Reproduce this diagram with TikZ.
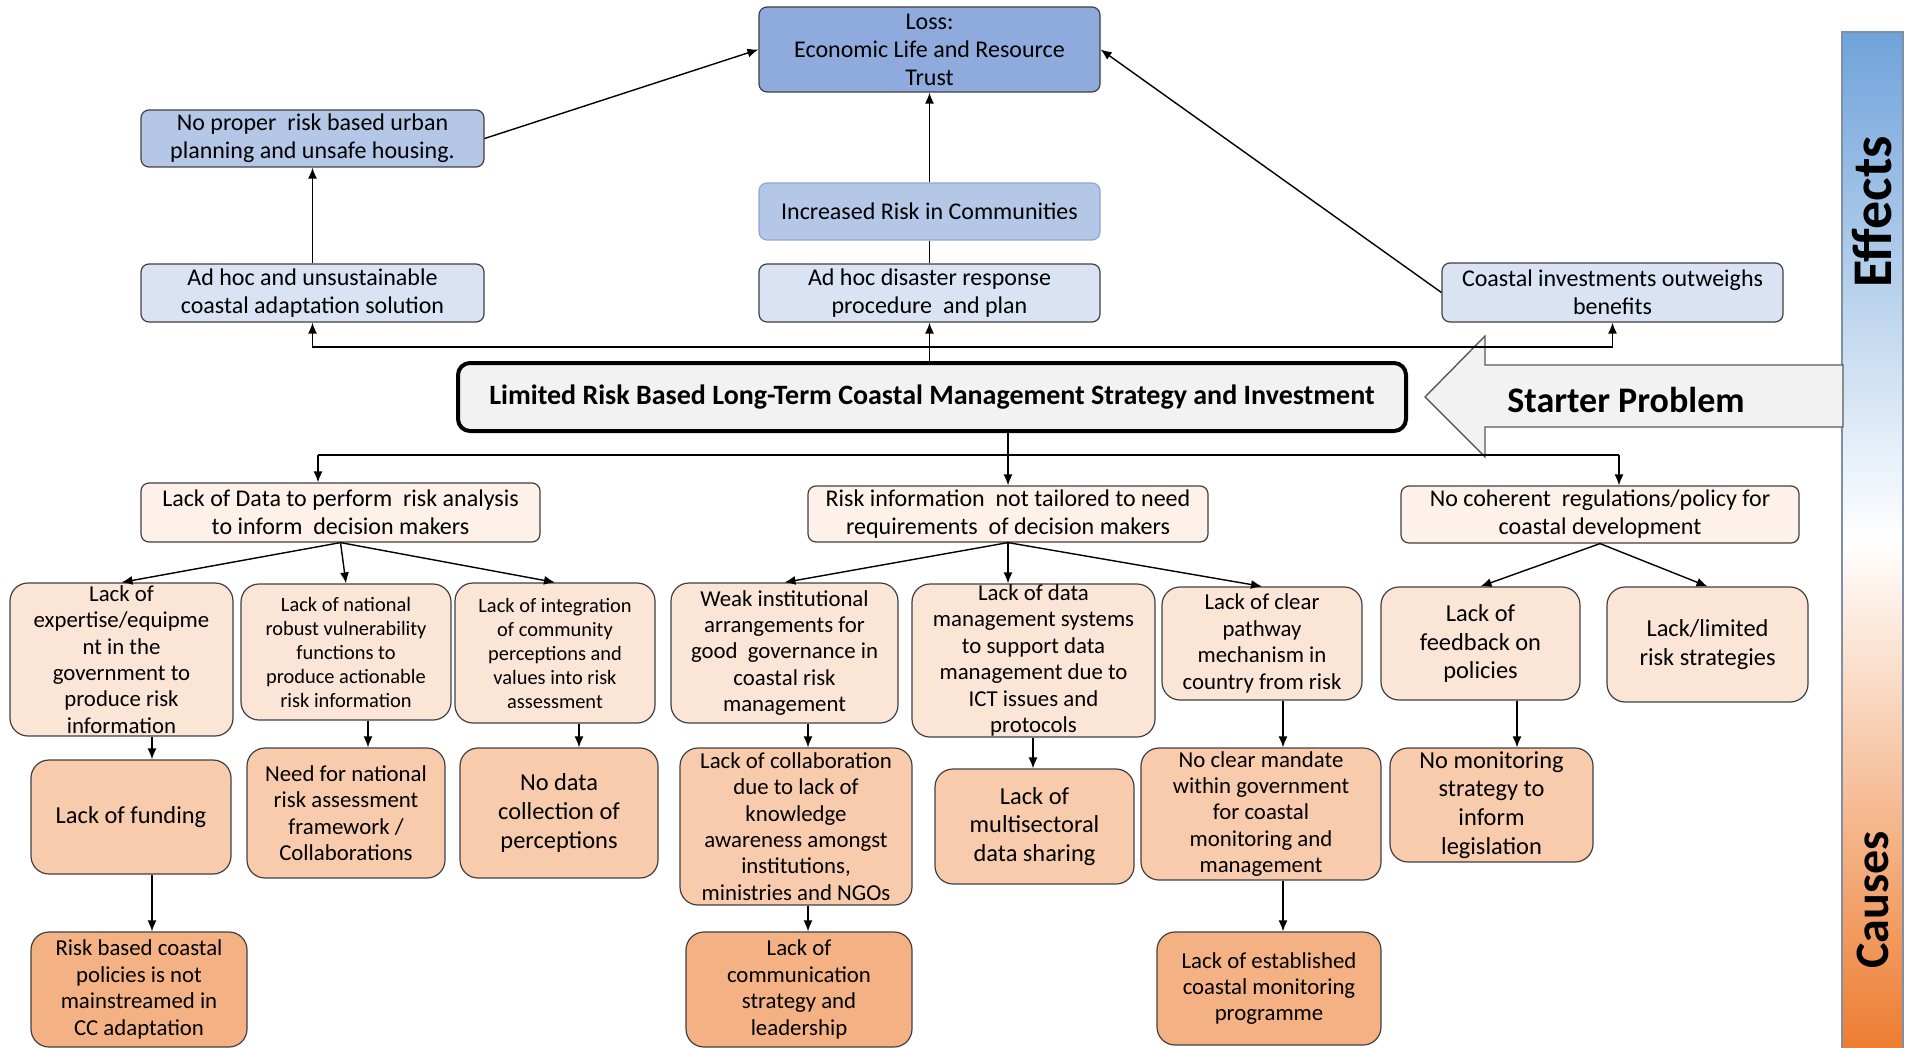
\documentclass[tikz,border=0pt]{standalone}
\usepackage{fontspec}
\setmainfont{Carlito}
\usepackage{tikz}
\usetikzlibrary{arrows.meta}

\definecolor{boxline}{HTML}{404040}
\definecolor{lossblue}{HTML}{8FAADC}
\definecolor{urbanblue}{HTML}{B4C7E7}
\definecolor{riskline}{HTML}{8EA6D2}
\definecolor{adhocblue}{HTML}{DAE3F3}
\definecolor{startgray}{HTML}{F2F2F2}
\definecolor{arrowline}{HTML}{595959}
\definecolor{peachA}{HTML}{FDF1E9}
\definecolor{peachB}{HTML}{FBE5D6}
\definecolor{peachC}{HTML}{F8CBAD}
\definecolor{peachD}{HTML}{F4B183}
\definecolor{barblue}{HTML}{6FA3DA}
\definecolor{barorange}{HTML}{ED7D31}
\definecolor{bargray}{HTML}{7F8FA6}

\begin{document}
\begin{tikzpicture}[x=0.5pt, y=-0.5pt, >={Latex[length=5.5pt,width=4.5pt]},
    box/.style={draw=boxline, line width=0.6pt, rounded corners=4pt, align=center, inner sep=0pt},
    effect/.style={box, font=\fontsize{12}{14}\selectfont},
    cause/.style={box, rounded corners=9pt, font=\fontsize{11.4}{13.2}\selectfont},
    small/.style={font=\fontsize{10.2}{12}\selectfont},
    big/.style={font=\fontsize{12.2}{14.4}\selectfont},
    link/.style={line width=0.7pt}]
    \useasboundingbox (0,0) rectangle (1916,1048);
    % side bar
    \shade [top color=barblue, bottom color=barorange, middle color=white] (1842,32) rectangle (1903,1048);
    \draw [draw=bargray, line width=0.6pt] (1842,1048) -- (1842,32) -- (1903,32) -- (1903,1048);
    \node [rotate=90, font=\bfseries\fontsize{28}{32}\selectfont] (effects) at (1872,212) {Effects};
    \node [rotate=90, font=\bfseries\fontsize{24}{28}\selectfont] (causes) at (1873,900) {Causes};
    % effects
    \node [effect, fill=lossblue, minimum width=170.5pt, minimum height=42.5pt] (loss) at (929.5,49.5) {Loss:\\Economic Life and Resource\\Trust};
    \node [effect, fill=urbanblue, minimum width=171.5pt, minimum height=28.5pt] (urban) at (312.5,138.5) {No proper\ \ risk based urban\\planning and unsafe housing.};
    \node [effect, fill=urbanblue, draw=riskline, minimum width=170.5pt, minimum height=28.5pt] (risk) at (929.5,211.5) {Increased Risk in Communities};
    \node [effect, fill=adhocblue, minimum width=171.5pt, minimum height=29pt] (adhoc) at (312.5,293) {Ad hoc and unsustainable\\coastal adaptation solution};
    \node [effect, fill=adhocblue, minimum width=170.5pt, minimum height=29pt] (disaster) at (929.5,293) {Ad hoc disaster response\\procedure\ \ and plan};
    \node [effect, fill=adhocblue, minimum width=170.5pt, minimum height=29.5pt] (invest) at (1612.5,292.5) {Coastal investments outweighs\\benefits};
    \draw [->, link] (adhoc.north) -- (urban.south);
    \draw [->, link] (urban.east) -- (loss.west);
    \draw [link] (disaster.north) -- (risk.south);
    \draw [->, link] (risk.north) -- (loss.south);
    \draw [->, link] (invest.west) -- (loss.east);
    % starter problem
    \draw [draw=arrowline, fill=startgray, line width=0.7pt] (1843,365) -- (1485,365) -- (1485,336) -- (1425,397) -- (1485,457) -- (1485,427) -- (1843,427) -- cycle;
    \node [font=\bfseries\fontsize{18}{22}\selectfont] (starter) at (1626,400) {Starter Problem};
    \node [box, line width=2pt, draw=black, rounded corners=6pt, fill=startgray, minimum width=474pt, minimum height=34pt, font=\bfseries\fontsize{14}{17}\selectfont] (start) at (932,397) {Limited Risk Based Long-Term Coastal Management Strategy and Investment};
    \coordinate (up) at (929.5,347);
    \draw [->, link] (start.north -| disaster) -- (disaster.south);
    \draw [->, link] (up) -| (adhoc.south);
    \draw [->, link] (up) -| (invest.south);
    % causes, first row
    \node [box, fill=peachA, font=\fontsize{12}{14}\selectfont, minimum width=199.5pt, minimum height=29.5pt] (lackdata) at (340.5,512.5) {Lack of Data to perform\ \ risk analysis\\to inform\ \ decision makers};
    \node [box, fill=peachA, font=\fontsize{12}{14}\selectfont, minimum width=200pt, minimum height=28pt] (riskinfo) at (1008,514) {Risk information\ \ not tailored to need\\requirements\ \ of decision makers};
    \node [box, fill=peachA, font=\fontsize{12}{14}\selectfont, minimum width=199pt, minimum height=28.5pt] (coherent) at (1600,514.5) {No coherent\ \ regulations/policy for\\coastal development};
    \coordinate (dl) at (318,455);
    \coordinate (dr) at (1619,455);
    \draw [->, link] (start.south -| riskinfo) -- (riskinfo.north);
    \draw [link] (dl) -- (dr);
    \draw [->, link] (dl) -- (dl |- lackdata.north);
    \draw [->, link] (dr) -- (dr |- coherent.north);
    % causes, second row
    \node [cause, fill=peachB, minimum width=111.5pt, minimum height=76.5pt] (expertise) at (121.5,659.5) {Lack of\\expertise/equipme\\nt in the\\government to\\produce risk\\information};
    \node [cause, small, fill=peachB, minimum width=105pt, minimum height=68pt] (robust) at (346,652) {Lack of national\\robust vulnerability\\functions to\\produce actionable\\risk information};
    \node [cause, small, fill=peachB, minimum width=100pt, minimum height=70pt] (integration) at (555,653) {Lack of integration\\of community\\perceptions and\\values into risk\\assessment};
    \node [cause, fill=peachB, minimum width=113.5pt, minimum height=70pt] (weak) at (784.5,653) {Weak institutional\\arrangements for\\good\ \ governance in\\coastal risk\\management};
    \node [cause, fill=peachB, minimum width=121.5pt, minimum height=76.5pt] (datamgmt) at (1033.5,660.5) {Lack of data\\management systems\\to support data\\management due to\\ICT issues and\\protocols};
    \node [cause, fill=peachB, minimum width=100pt, minimum height=56.5pt] (pathway) at (1262,643.5) {Lack of clear\\pathway\\mechanism in\\country from risk};
    \node [cause, big, fill=peachB, minimum width=99.5pt, minimum height=56.5pt] (feedback) at (1480.5,643.5) {Lack of\\feedback on\\policies};
    \node [cause, big, fill=peachB, minimum width=100.5pt, minimum height=57.5pt] (limited) at (1707.5,644.5) {Lack/limited\\risk strategies};
    \draw [->, link] (lackdata.south) -- (expertise.north);
    \draw [->, link] (lackdata.south) -- (robust.north);
    \draw [->, link] (lackdata.south) -- (integration.north);
    \draw [->, link] (riskinfo.south) -- (weak.north);
    \draw [->, link] (riskinfo.south) -- (riskinfo.south |- datamgmt.north);
    \draw [->, link] (riskinfo.south) -- (pathway.north);
    \draw [->, link] (coherent.south) -- (feedback.north);
    \draw [->, link] (coherent.south) -- (limited.north);
    % causes, third row
    \node [cause, big, fill=peachC, minimum width=100pt, minimum height=57pt] (funding) at (131,817) {Lack of funding};
    \node [cause, fill=peachC, minimum width=99pt, minimum height=65pt] (need) at (346,813) {Need for national\\risk assessment\\framework /\\Collaborations};
    \node [cause, big, fill=peachC, minimum width=99pt, minimum height=65pt] (nodata) at (559,813) {No data\\collection of\\perceptions};
    \node [cause, fill=peachC, minimum width=116pt, minimum height=78.5pt] (collab) at (796,826.5) {Lack of collaboration\\due to lack of\\knowledge\\awareness amongst\\institutions,\\ministries and NGOs};
    \node [cause, big, fill=peachC, minimum width=99.5pt, minimum height=57.5pt] (multi) at (1034.5,826.5) {Lack of\\multisectoral\\data sharing};
    \node [cause, fill=peachC, minimum width=120pt, minimum height=66pt] (mandate) at (1261,814) {No clear mandate\\within government\\for coastal\\monitoring and\\management};
    \node [cause, big, fill=peachC, minimum width=101.5pt, minimum height=57pt] (monitoring) at (1491.5,805) {No monitoring\\strategy to\\inform\\legislation};
    % causes, fourth row
    \node [cause, fill=peachD, minimum width=108pt, minimum height=57.5pt] (riskbased) at (139,989.5) {Risk based coastal\\policies is not\\mainstreamed in\\CC adaptation};
    \node [cause, fill=peachD, minimum width=113pt, minimum height=57.5pt] (comm) at (799,989.5) {Lack of\\communication\\strategy and\\leadership};
    \node [cause, fill=peachD, minimum width=112pt, minimum height=56.5pt] (established) at (1269,988.5) {Lack of established\\coastal monitoring\\programme};
    % vertical links between rows
    \coordinate (c1) at (152,0);
    \coordinate (c2) at (368,0);
    \coordinate (c3) at (579,0);
    \coordinate (c4) at (808,0);
    \coordinate (c5) at (1033,0);
    \coordinate (c6) at (1283,0);
    \coordinate (c7) at (1517,0);
    \draw [->, link] (expertise.south -| c1) -- (funding.north -| c1);
    \draw [->, link] (funding.south -| c1) -- (riskbased.north -| c1);
    \draw [->, link] (robust.south -| c2) -- (need.north -| c2);
    \draw [->, link] (integration.south -| c3) -- (nodata.north -| c3);
    \draw [->, link] (weak.south -| c4) -- (collab.north -| c4);
    \draw [->, link] (collab.south -| c4) -- (comm.north -| c4);
    \draw [->, link] (datamgmt.south -| c5) -- (multi.north -| c5);
    \draw [->, link] (pathway.south -| c6) -- (mandate.north -| c6);
    \draw [->, link] (mandate.south -| c6) -- (established.north -| c6);
    \draw [->, link] (feedback.south -| c7) -- (monitoring.north -| c7);
\end{tikzpicture}
\end{document}
